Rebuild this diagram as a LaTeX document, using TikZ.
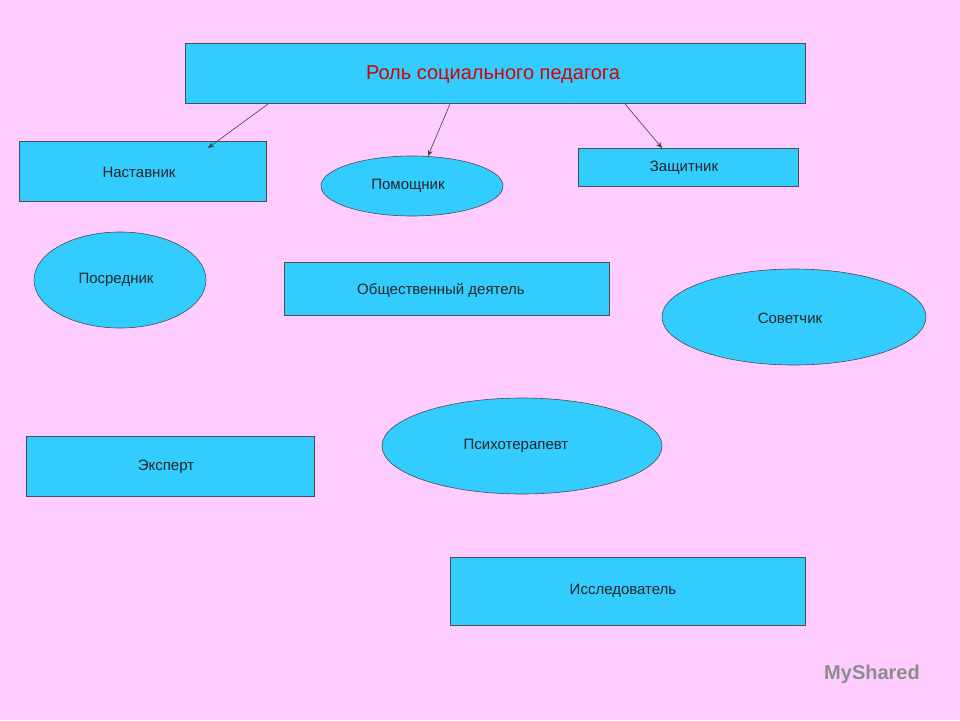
\documentclass[tikz,border=0pt]{standalone}
\usepackage{fontspec}
\setmainfont{Liberation Sans}
\usetikzlibrary{shapes.geometric,arrows.meta}
\definecolor{bg}{HTML}{FFCCFF}
\definecolor{boxc}{HTML}{33CCFF}
\begin{document}
\begin{tikzpicture}[x=1pt,y=-1pt,
  rbox/.style={draw=black!70,fill=boxc,line width=0.6pt},
  ell/.style={draw=black!70,fill=boxc,line width=0.6pt},
  lbl/.style={font=\fontsize{15}{18}\selectfont,text=black!85},
  arr/.style={draw=black!75,line width=0.6pt,-{Stealth[length=6pt,width=5pt]}}]
\fill[bg] (0,0) rectangle (960,720);
\useasboundingbox (0,0) rectangle (960,720);
\draw[rbox] (185,43) rectangle (805,103);
\node[font=\fontsize{20}{24}\selectfont,text=red!85!black] (t) at (493,75) {Роль социального педагога};
\draw[rbox] (19,141) rectangle (266,201);
\node[lbl] (a) at (139,172) {Наставник};
\draw[ell] (412,186) ellipse (91 and 30);
\node[lbl] (b) at (408,186) {Помощник};
\draw[rbox] (578,148) rectangle (798,186);
\node[lbl] (c) at (684,168) {Защитник};
\draw[ell] (120,280) ellipse (86 and 48);
\node[lbl] (d) at (116,280) {Посредник};
\draw[rbox] (284,262) rectangle (609,315);
\node[lbl] (e) at (441,290) {Общественный деятель};
\draw[ell] (794,317) ellipse (132 and 48);
\node[lbl] (f) at (790,318) {Советчик};
\draw[rbox] (26,436) rectangle (314,496);
\node[lbl] (g) at (166,467) {Эксперт};
\draw[ell] (522,446) ellipse (140 and 48);
\node[lbl] (h) at (516,446) {Психотерапевт};
\draw[rbox] (450,557) rectangle (805,625);
\node[lbl] (i) at (623,591) {Исследователь};
\coordinate (s1) at (268,104); \coordinate (e1) at (208,148);
\coordinate (s2) at (450,104); \coordinate (e2) at (428,156);
\coordinate (s3) at (625,104); \coordinate (e3) at (662,148);
\draw[arr] (s1) -- (e1);
\draw[arr] (s2) -- (e2);
\draw[arr] (s3) -- (e3);
\node[font=\fontsize{20}{24}\selectfont\bfseries,text=black!45] (w) at (872,674) {MyShared};
\end{tikzpicture}
\end{document}
